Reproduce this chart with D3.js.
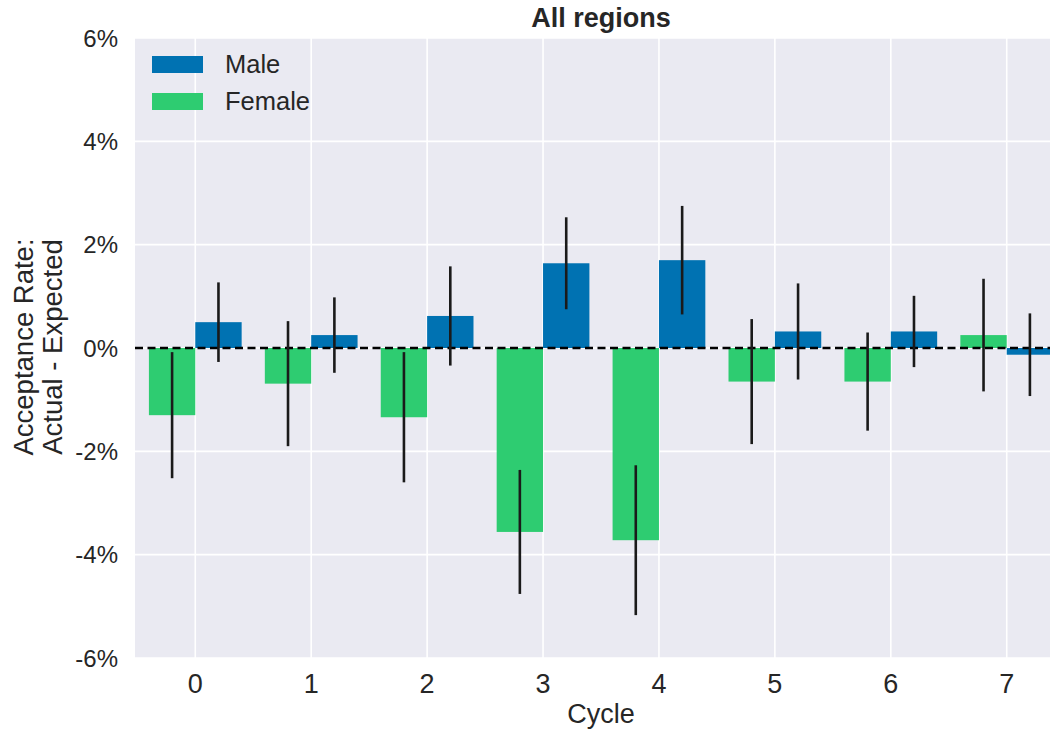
<!DOCTYPE html>
<html><head><meta charset="utf-8">
<script src="https://cdn.jsdelivr.net/npm/d3@7"></script>
<style>body{margin:0;background:#fff;} svg{display:block;} text{font-family:"Liberation Sans",Arial,sans-serif;fill:#262626;}</style>
</head><body>
<svg id="c" width="1050" height="731"></svg>
<script>
const cycles = [0,1,2,3,4,5,6,7];
const maleValues = [0.50, 0.25, 0.62, 1.64, 1.70, 0.32, 0.32, -0.13];
const maleErrors = [0.77, 0.73, 0.96, 0.89, 1.05, 0.93, 0.69, 0.80];
const femaleValues = [-1.30, -0.69, -1.34, -3.56, -3.72, -0.65, -0.65, 0.25];
const femaleErrors = [1.22, 1.21, 1.26, 1.20, 1.45, 1.21, 0.95, 1.09];
const yTicks = [-6,-4,-2,0,2,4,6];
const seriesNames = ["Male","Female"];
const colors = {Male:"#0072b2", Female:"#2ecc71"};

const svg = d3.select("#c");
const L = 135, R = 1067, T = 38, B = 658;
const x = d3.scaleLinear().domain([-0.52, 7.52]).range([L, R]);
const y = d3.scaleLinear().domain([-6, 6]).range([B, T]);

svg.append("defs").append("clipPath").attr("id","clip").append("rect")
  .attr("x",L).attr("y",T).attr("width",R-L).attr("height",B-T);

svg.append("rect").attr("x",L).attr("y",T).attr("width",R-L).attr("height",B-T).attr("fill","#eaeaf2");
const g = svg.append("g").attr("clip-path","url(#clip)");
g.selectAll(".gy").data(yTicks).enter().append("line")
  .attr("x1",L).attr("x2",R).attr("y1",d=>y(d)).attr("y2",d=>y(d))
  .attr("stroke","#fff").attr("stroke-width",1.6);
g.selectAll(".gx").data(cycles).enter().append("line")
  .attr("y1",T).attr("y2",B).attr("x1",d=>x(d)).attr("x2",d=>x(d))
  .attr("stroke","#fff").attr("stroke-width",1.6);

const bw = 0.4;
const female = cycles.map((c,i)=>({c, v:femaleValues[i], e:femaleErrors[i], off:-bw, s:"Female"}));
const male = cycles.map((c,i)=>({c, v:maleValues[i], e:maleErrors[i], off:0, s:"Male"}));
const all = female.concat(male);
g.selectAll(".bar").data(all).enter().append("rect")
  .attr("x",d=>x(d.c+d.off)).attr("width",d=>x(d.c+d.off+bw)-x(d.c+d.off))
  .attr("y",d=>y(Math.max(0,d.v))).attr("height",d=>Math.abs(y(d.v)-y(0)))
  .attr("fill",d=>colors[d.s]);

g.append("line").attr("x1",L).attr("x2",R).attr("y1",y(0)).attr("y2",y(0))
  .attr("stroke","#000").attr("stroke-width",2.4).attr("stroke-dasharray","8,4.5");

g.selectAll(".err").data(all).enter().append("line")
  .attr("x1",d=>x(d.c+d.off+bw/2)).attr("x2",d=>x(d.c+d.off+bw/2))
  .attr("y1",d=>y(d.v+d.e)).attr("y2",d=>y(d.v-d.e))
  .attr("stroke","#1a1a1a").attr("stroke-width",2.6);

// y tick labels
svg.selectAll(".yt").data(yTicks).enter().append("text")
  .attr("x",118).attr("y",d=>y(d)).attr("dy","0.36em").attr("text-anchor","end")
  .attr("font-size",24).text(d=>d+"%");
// x tick labels
svg.selectAll(".xt").data(cycles).enter().append("text")
  .attr("x",d=>x(d)).attr("y",693).attr("text-anchor","middle")
  .attr("font-size",27).text(d=>d);
svg.append("text").attr("x",(L+R)/2).attr("y",723).attr("text-anchor","middle")
  .attr("font-size",27).text("Cycle");
const yl = svg.append("text").attr("transform",`translate(0,${(T+B)/2 - 1}) rotate(-90)`)
  .attr("text-anchor","middle").attr("font-size",27.5);
yl.append("tspan").attr("x",0).attr("y",33).text("Acceptance Rate:");
yl.append("tspan").attr("x",0).attr("y",62).text("Actual - Expected");
svg.append("text").attr("x",(L+R)/2).attr("y",27).attr("text-anchor","middle")
  .attr("font-size",27).attr("font-weight","bold").text("All regions");

// legend
const lg = svg.append("g");
seriesNames.forEach((n,i)=>{
  lg.append("rect").attr("x",152).attr("y",56+i*37).attr("width",51).attr("height",17).attr("fill",colors[n]);
  lg.append("text").attr("x",225).attr("y",73+i*37).attr("font-size",25.5).text(n);
});
</script>
</body></html>
